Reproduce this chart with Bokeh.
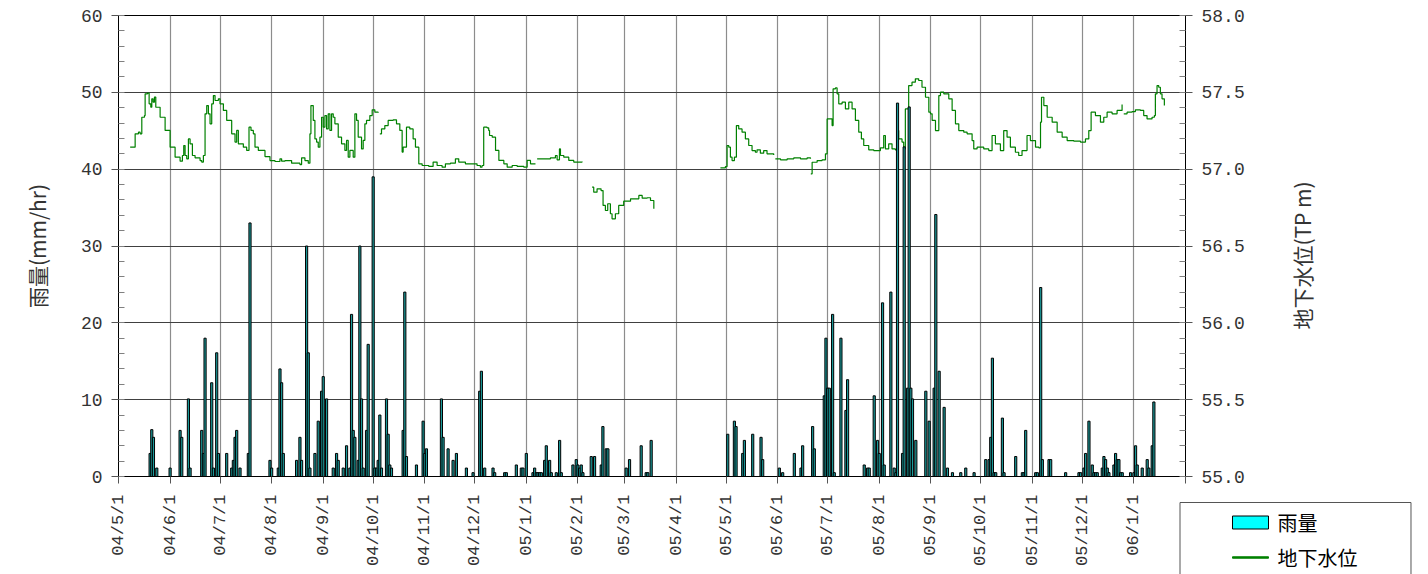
import math
from datetime import date
from bokeh.plotting import figure
from bokeh.layouts import column
from bokeh.models import (Range1d, LinearAxis, FixedTicker, SingleIntervalTicker,
                          PrintfTickFormatter, Label)
from bokeh.embed import file_html
from bokeh.resources import INLINE

# ---------------- data ----------------
month_labels = ["04/5/1", "04/6/1", "04/7/1", "04/8/1", "04/9/1", "04/10/1", "04/11/1",
                "04/12/1", "05/1/1", "05/2/1", "05/3/1", "05/4/1", "05/5/1", "05/6/1",
                "05/7/1", "05/8/1", "05/9/1", "05/10/1", "05/11/1", "05/12/1", "06/1/1"]
axis_end_label = "06/2/1"

# rainfall (mm/hr), day index counted from 2004/5/1
rain_day = [19, 20, 21, 23, 31, 37, 38, 42, 43, 50, 51, 52, 56, 57, 59, 60, 65, 68, 69, 70,
            71, 73, 78, 79, 91, 92, 96, 97, 98, 99, 107, 109, 110, 113, 114, 115, 118, 120,
            122, 123, 125, 129, 131, 132, 135, 137, 139, 140, 141, 142, 144, 145, 146, 147,
            149, 150, 153, 154, 155, 156, 157, 158, 161, 162, 163, 164, 171, 172, 173, 179,
            183, 184, 185, 194, 195, 198, 201, 203, 209, 213, 217, 218, 220, 225, 226, 232,
            233, 239, 242, 243, 245, 249, 250, 251, 252, 253, 254, 256, 257, 259, 260, 263,
            265, 266, 273, 275, 276, 277, 278, 279, 284, 286, 290, 291, 293, 294, 305, 307,
            314, 317, 318, 320, 366, 370, 371, 375, 376, 381, 386, 387, 397, 399, 406, 410,
            411, 417, 418, 424, 425, 426, 427, 429, 430, 434, 437, 438, 448, 450, 451, 454,
            456, 457, 459, 460, 464, 466, 467, 468, 471, 472, 474, 475, 476, 477, 479, 485,
            487, 490, 491, 493, 496, 498, 501, 506, 509, 514, 521, 523, 524, 525, 526, 527,
            531, 532, 539, 543, 544, 545, 551, 552, 554, 555, 559, 560, 569, 577, 578, 580,
            581, 583, 585, 586, 587, 588, 591, 592, 593, 594, 595, 598, 599, 600, 601, 602,
            603, 608, 610, 611, 612, 615, 618, 619, 621, 622]
rain_mm = [3.0, 6.1, 5.1, 1.1, 1.1, 6.0, 5.1, 10.1, 1.1, 6.0, 3.0, 18.0, 12.2, 1.1, 16.1, 3.0,
           3.0, 1.1, 2.1, 5.1, 6.0, 1.1, 3.0, 33.0, 2.1, 1.1, 1.1, 14.0, 12.2, 3.0, 2.1, 5.1,
           2.1, 30.0, 16.1, 1.1, 3.0, 7.2, 11.1, 13.0, 10.1, 1.1, 3.0, 2.1, 1.1, 4.0, 1.1,
           21.1, 6.0, 5.1, 2.1, 30.0, 10.1, 1.1, 6.0, 17.2, 39.0, 1.1, 1.1, 2.1, 8.0, 1.1,
           10.1, 5.5, 1.5, 1.1, 6.0, 24.0, 2.6, 1.5, 7.2, 3.0, 3.6, 10.1, 5.1, 3.6, 2.1, 3.0,
           1.1, 0.5, 11.1, 13.7, 1.1, 1.1, 0.5, 0.5, 0.5, 1.5, 1.1, 1.1, 3.0, 0.5, 1.1, 0.5,
           0.5, 0.5, 0.5, 2.1, 4.0, 2.1, 0.5, 0.5, 4.7, 0.5, 1.5, 2.2, 1.5, 1.1, 1.5, 0.5,
           2.6, 2.6, 1.5, 6.5, 3.6, 3.6, 1.1, 2.2, 4.0, 0.5, 0.5, 4.7, 5.5, 7.2, 6.5, 3.0,
           4.7, 5.5, 5.1, 2.2, 1.1, 0.5, 3.0, 1.1, 4.0, 6.5, 3.6, 10.5, 18.0, 11.5, 11.5,
           21.1, 0.5, 18.0, 8.6, 12.6, 1.5, 1.1, 1.1, 10.5, 4.7, 3.0, 22.6, 1.5, 24.0, 1.1,
           0.5, 48.6, 3.0, 42.9, 11.5, 48.1, 11.5, 10.1, 4.7, 11.1, 7.2, 11.5, 34.1, 13.7,
           9.0, 1.1, 0.5, 0.5, 1.1, 0.5, 2.2, 2.2, 5.1, 15.4, 0.5, 0.5, 7.6, 0.5, 2.6, 0.5,
           0.5, 6.0, 0.5, 0.5, 24.6, 2.2, 2.2, 2.2, 0.5, 0.5, 0.5, 1.1, 3.0, 7.2, 1.5, 0.5,
           0.5, 0.5, 1.1, 2.6, 2.2, 1.1, 0.5, 1.5, 3.0, 2.2, 2.2, 0.5, 0.5, 0.5, 0.5, 4.0,
           1.5, 1.1, 2.2, 1.1, 4.0, 9.7]

# groundwater level (TP m); None marks a gap in the record
gw_day = [7.0, 9.6, 10.0, 12.0, 13.0, 14.0, 15.6, 16.0, 17.4, 18.4, 19.4, 20.0, 20.8, 21.6,
          22.4, 25.0, 28.0, 31.0, 34.0, 37.0, 38.4, 39.2, 40.0, 41.0, 42.0, 43.0, 44.4, 46.0,
          49.0, 50.0, 51.0, 52.0, 53.0, 54.0, 55.0, 56.0, 57.0, 58.0, 60.0, 61.0, 63.0, 65.0,
          68.0, 70.0, 71.0, 72.0, 75.0, 77.0, 78.4, 79.6, 81.0, 82.0, 84.0, 88.0, 91.0, 94.0,
          97.0, 98.0, 100.0, 104.0, 109.0, 110.0, 112.0, 114.0, 115.0, 115.6, 117.0, 118.0,
          119.0, 120.0, 121.0, 122.0, 123.0, 124.0, 125.0, 126.0, 127.0, 128.0, 129.0, 130.0,
          132.0, 134.0, 136.0, 137.0, 138.0, 139.0, 141.0, 142.0, 143.0, 144.0, 146.0, 147.0,
          148.0, 149.0, 151.0, 152.4, 154.0, 156.0, None,
          157.0, 158.0, 160.0, 162.0, 165.0, 167.0, 169.0, 170.4, 171.0, 172.0, 173.0, 175.0,
          177.0, 178.4, 180.4, 182.4, 184.4, 186.4, 189.0, 191.4, 194.4, 196.4, 199.4, 202.4,
          204.4, 208.4, 215.4, 217.4, 218.4, 219.4, 221.4, 222.4, 222.9, 224.5, 226.5, 228.5,
          231.5, 233.5, 236.5, 239.5, 243.5, 245.5, 247.5, 250.5, None,
          251.5, 255.5, 259.5, 262.5, 263.5, 264.9, 265.5, 267.5, 270.5, 273.5, 278.5, None,
          284.5, 285.5, 287.5, 289.9, 291.1, 292.5, 293.9, 295.5, 296.5, 298.5, 300.5, 303.5,
          307.6, 312.6, 314.6, 317.6, 319.6, 321.6, None,
          361.6, 364.6, 365.6, 366.6, 367.6, 368.6, 370.0, 371.2, 372.6, 374.6, 376.6, 378.6,
          380.6, 382.6, 383.6, 385.6, 387.6, 389.6, 393.6, None,
          394.6, 397.7, 401.7, 405.7, 409.7, 413.7, 415.7, None,
          415.9, 416.7, 419.7, 422.7, 424.7, 425.7, 427.7, 428.7, 429.3, 430.7, 431.7, 432.7,
          434.7, 436.7, 438.7, 440.7, 442.7, 444.7, 446.3, 447.7, 450.7, 453.7, 457.7, 459.7,
          460.7, 462.7, 464.7, 466.7, 467.7, 468.7, 470.7, 471.7, 472.7, 474.7, 476.7, 478.7,
          480.7, 482.7, 484.8, 486.8, 487.8, 488.8, 490.8, 491.8, 492.8, 493.8, 495.8, 498.8,
          500.8, 502.8, 504.8, 507.8, 509.8, 512.8, 513.8, 515.8, 519.8, 522.8, 524.8, 526.8,
          529.8, 531.8, 533.8, 535.8, 538.8, 540.8, 542.8, 545.8, 547.8, 550.9, 552.9, 553.9,
          554.5, 555.9, 557.9, 560.9, 563.9, 566.9, 569.9, 573.9, 577.9, 580.9, 582.9, 584.3,
          586.9, 589.9, 591.9, 593.9, 596.9, 599.9, 602.9, None,
          603.9, 605.9, 608.9, 610.9, 613.9, 615.9, 617.9, 620.9, 622.3, 622.9, 623.9, 624.9,
          625.9, 626.9, 628.3]
gw_level = [57.143, 57.143, 57.230, 57.241, 57.230, 57.338, 57.349, 57.490, 57.495, 57.425,
            57.403, 57.458, 57.436, 57.469, 57.403, 57.338, 57.252, 57.143, 57.078, 57.052,
            57.089, 57.154, 57.089, 57.067, 57.197, 57.165, 57.089, 57.074, 57.056, 57.046,
            57.089, 57.360, 57.414, 57.360, 57.295, 57.425, 57.479, 57.447, 57.458, 57.425,
            57.382, 57.317, 57.230, 57.176, 57.252, 57.165, 57.143, 57.122, 57.273, 57.252,
            57.230, 57.143, 57.122, 57.082, 57.056, 57.050, 57.067, 57.052, 57.056, 57.039,
            57.030, 57.074, 57.056, 57.039, 57.230, 57.414, 57.317, 57.197, 57.176, 57.143,
            57.208, 57.338, 57.273, 57.349, 57.262, 57.360, 57.252, 57.360, 57.338, 57.295,
            57.208, 57.165, 57.122, 57.187, 57.078, 57.122, 57.078, 57.360, 57.317, 57.208,
            57.132, 57.187, 57.295, 57.317, 57.349, 57.386, 57.371, 57.367, None,
            57.230, 57.262, 57.284, 57.317, 57.321, 57.295, 57.252, 57.111, 57.143, 57.143,
            57.273, 57.262, 57.197, 57.143, 57.035, 57.024, 57.024, 57.018, 57.046, 57.024,
            57.013, 57.035, 57.039, 57.067, 57.046, 57.035, 57.024, 57.013, 57.024, 57.273,
            57.269, 57.252, 57.219, 57.208, 57.122, 57.057, 57.035, 57.013, 57.024, 57.018,
            57.013, 57.057, 57.035, 57.035, None,
            57.067, 57.067, 57.074, 57.089, 57.061, 57.132, 57.089, 57.078, 57.057, 57.046,
            57.050, None,
            56.883, 56.850, 56.872, 56.861, 56.764, 56.731, 56.775, 56.710, 56.677, 56.710,
            56.764, 56.792, 56.807, 56.829, 56.811, 56.814, 56.796, 56.742, None,
            57.009, 57.017, 57.154, 57.143, 57.078, 57.056, 57.078, 57.284, 57.262, 57.241,
            57.197, 57.154, 57.121, 57.110, 57.126, 57.104, 57.121, 57.100, 57.093, None,
            57.067, 57.061, 57.067, 57.074, 57.067, 57.074, 57.067, None,
            56.970, 57.045, 57.056, 57.061, 57.100, 57.327, 57.327, 57.284, 57.523, 57.529,
            57.490, 57.425, 57.436, 57.392, 57.436, 57.392, 57.317, 57.241, 57.197, 57.154,
            57.126, 57.121, 57.139, 57.219, 57.132, 57.165, 57.132, 57.126, 57.251, 57.197,
            57.176, 57.132, 57.392, 57.544, 57.566, 57.588, 57.577, 57.533, 57.468, 57.371,
            57.360, 57.317, 57.251, 57.251, 57.479, 57.501, 57.490, 57.458, 57.382, 57.295,
            57.251, 57.241, 57.230, 57.186, 57.132, 57.143, 57.132, 57.121, 57.219, 57.165,
            57.121, 57.251, 57.208, 57.143, 57.110, 57.089, 57.121, 57.219, 57.186, 57.143,
            57.139, 57.306, 57.468, 57.414, 57.338, 57.306, 57.241, 57.208, 57.186, 57.182,
            57.176, 57.197, 57.251, 57.371, 57.349, 57.306, 57.338, 57.371, 57.360, 57.382,
            57.421, None,
            57.360, 57.371, 57.375, 57.386, 57.382, 57.349, 57.327, 57.338, 57.349, 57.490,
            57.544, 57.533, 57.490, 57.458, 57.414]

legend_labels = ["雨量", "地下水位"]
left_title = "雨量(mm/hr)"
right_title = "地下水位(TP m)"

# ---------------- helpers ----------------
ORIGIN = date(2004, 5, 1)


def to_day(lbl):
    yy, mm, dd = (int(s) for s in lbl.split("/"))
    return (date(2000 + yy, mm, dd) - ORIGIN).days


nan = float("nan")
gw_x = [nan if v is None else v for v in gw_day]
gw_y = [nan if v is None else v for v in gw_level]

# logger record: the value holds until the next reading (stair-step trace)
step_x, step_y = [], []
for i, (x, y) in enumerate(zip(gw_x, gw_y)):
    if math.isnan(x):
        step_x.append(nan)
        step_y.append(nan)
        continue
    step_x.append(x)
    step_y.append(y)
    if i + 1 < len(gw_x) and not math.isnan(gw_x[i + 1]):
        step_x.append(gw_x[i + 1])
        step_y.append(y)

month_ticks = [to_day(m) for m in month_labels]
x_end = to_day(axis_end_label)
overrides = {t: m for t, m in zip(month_ticks, month_labels)}
overrides[x_end] = ""

NUM_FONT = "Liberation Mono"
CJK_FONT = "Noto Sans CJK JP"
TXT = "#333333"
BAR_FILL = "#00ffff"
BAR_SHADE = "#1a9a9a"
LINE_COL = "#008000"

W, H = 1428, 574
BL, BR, BT, BB = 118, 243, 15, 98
p = figure(width=W, height=H, x_range=Range1d(0, x_end), y_range=Range1d(0, 60),
           output_backend="svg", toolbar_location=None,
           min_border_left=BL, min_border_right=BR, min_border_top=BT, min_border_bottom=BB)
p.extra_y_ranges = {"gw": Range1d(55, 58)}
p.background_fill_color = "white"
p.outline_line_color = "black"
p.outline_line_width = 1

# x axis
xa = p.xaxis[0]
xa.ticker = FixedTicker(ticks=month_ticks + [x_end], minor_ticks=[])
xa.major_label_overrides = overrides
xa.major_label_orientation = math.pi / 2
xa.major_label_text_font = NUM_FONT
xa.major_label_text_font_size = "17px"
xa.major_label_text_color = TXT
xa.major_label_standoff = 11
xa.major_tick_out = 7
xa.major_tick_in = 0
xa.axis_line_color = "black"
xa.major_tick_line_color = "#555555"

# left axis
ya = p.yaxis[0]
ya.ticker = SingleIntervalTicker(interval=10, num_minor_ticks=5)
ya.axis_label = left_title

# right axis (its title is a separate upward-reading label, see below)
ra = LinearAxis(y_range_name="gw",
                ticker=SingleIntervalTicker(interval=0.5, num_minor_ticks=5),
                formatter=PrintfTickFormatter(format="%.1f"))
p.add_layout(ra, "right")

for ax in (ya, ra):
    ax.major_label_text_font = NUM_FONT
    ax.major_label_text_font_size = "18px"
    ax.major_label_text_color = TXT
    ax.major_label_standoff = 9
    ax.major_tick_out = 7
    ax.major_tick_in = 0
    ax.minor_tick_in = 6
    ax.minor_tick_out = 0
    ax.minor_tick_line_color = "#808080"
    ax.major_tick_line_color = "#555555"
    ax.axis_line_color = "black"
    ax.axis_label_text_font = CJK_FONT
    ax.axis_label_text_font_size = "21px"
    ax.axis_label_text_font_style = "normal"
    ax.axis_label_text_color = TXT
ya.axis_label_standoff = 26

p.add_layout(Label(x=1301, y=255, x_units="canvas", y_units="canvas", text=right_title,
                   angle=math.pi / 2, text_align="center", text_baseline="middle",
                   text_font=CJK_FONT, text_font_size="21px", text_color=TXT), "right")

p.xgrid.grid_line_color = "#8c8c8c"
p.xgrid.grid_line_width = 1.2
p.ygrid.grid_line_color = "#404040"
p.ygrid.grid_line_width = 1

# glyphs: groundwater line underneath, rainfall bars on top
gw_line = p.line(step_x, step_y, y_range_name="gw", line_color=LINE_COL, line_width=1.2)
bars = p.vbar(x=rain_day, top=rain_mm, bottom=0, width=1.3,
              fill_color=BAR_SHADE, line_color="black", line_width=1)

# ---------------- legend layer ----------------
# A transparent strip laid over the lower part of the page.  The legend pieces
# are labels in its upper side panel (so they are not clipped to its frame) and
# are positioned in canvas pixels.
LH = 300
TOP = H - LH                      # page y of the strip's top edge
lg = figure(width=W, height=LH, x_range=Range1d(0, 1), y_range=Range1d(0, 1),
            output_backend="svg", toolbar_location=None,
            min_border_left=BL, min_border_right=BR, min_border_top=0, min_border_bottom=0,
            x_axis_location=None, y_axis_location=None)
lg.outline_line_color = None
lg.xgrid.visible = False
lg.ygrid.visible = False
lg.background_fill_alpha = 0
lg.border_fill_alpha = 0
lg.margin = (-LH, 0, 0, 0)

SP = "\u3000"
box_left, box_right, box_top = 1180, 1410, 502
row_y = [522, 557]
glyph_cx, text_x = 1250, 1277

# legend frame (white box, gray border; its bottom runs past the page edge)
lg.add_layout(Label(x=(box_left + box_right) / 2, y=box_top - TOP,
                    x_units="canvas", y_units="canvas", text=SP * 3,
                    text_font=CJK_FONT, text_font_size="77px",
                    text_align="center", text_baseline="top",
                    background_fill_color="white", background_fill_alpha=1.0,
                    border_line_color="#555555", border_line_width=1), "above")
# rainfall swatch: cyan box with black edge
lg.add_layout(Label(x=glyph_cx, y=row_y[0] - TOP, x_units="canvas", y_units="canvas",
                    text=SP * 4, text_font=CJK_FONT, text_font_size="9px",
                    text_align="center", text_baseline="middle",
                    background_fill_color=BAR_FILL, background_fill_alpha=1.0,
                    border_line_color="black", border_line_width=1), "above")
# groundwater swatch: thin green line
lg.add_layout(Label(x=glyph_cx, y=row_y[1] - TOP, x_units="canvas", y_units="canvas",
                    text=SP * 36, text_font=CJK_FONT, text_font_size="1px",
                    text_align="center", text_baseline="middle",
                    background_fill_color=LINE_COL, background_fill_alpha=1.0,
                    border_line_color=LINE_COL, border_line_width=1), "above")
for lbl, yy in zip(legend_labels, row_y):
    lg.add_layout(Label(x=text_x, y=yy - TOP, x_units="canvas", y_units="canvas",
                        text=lbl, text_font=CJK_FONT, text_font_size="20px",
                        text_align="left", text_baseline="middle",
                        text_color="black"), "above")

layout = column(p, lg, spacing=0)
open("out.html", "w").write(file_html(layout, INLINE))
